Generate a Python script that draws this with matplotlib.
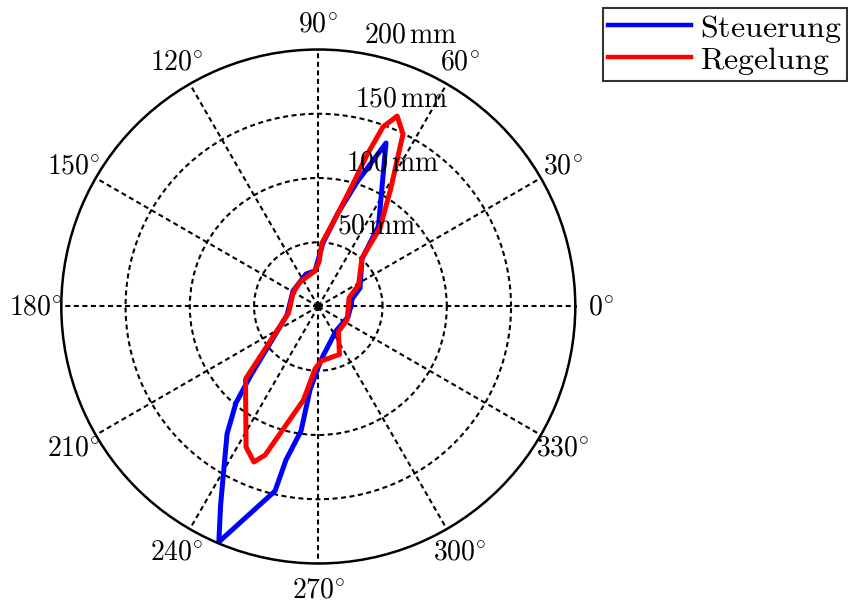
import numpy as np
import matplotlib
matplotlib.use('Agg')
import matplotlib.pyplot as plt

plt.rcParams['mathtext.fontset'] = 'cm'

# deviation in mm over polar angle in degrees
steuerung_theta = [0.9, 12.5, 23.9, 47.4, 53.2, 67.5, 72.7, 78.1, 85.8, 95.3, 110.7, 148.5,
                   195.2, 225.5, 229.5, 234.4, 243.8, 247.1, 256.8, 258.1, 262.1, 264.3,
                   269.7, 275.4, 305.8, 340.5]
steuerung_r = [25.4, 26.9, 35.5, 50.2, 78.2, 137.7, 101.5, 74.4, 49.6, 27.8, 27.0, 23.1,
               25.2, 74.7, 98.7, 122.0, 172.2, 198.9, 147.5, 122.1, 97.8, 65.3,
               47.9, 38.7, 23.5, 24.5]

regelung_theta = [1.0, 15.5, 28.1, 48.0, 51.8, 58.5, 63.85, 67.5, 70.2, 72.2, 74.2, 78.8,
                  86.7, 89.1, 95.3, 126.8, 151.9, 192.3, 224.9, 242.8, 247.5, 250.3,
                  261.0, 267.0, 272.8, 293.8, 308.9, 334.8]
regelung_r = [23.5, 24.8, 35.5, 50.8, 77.7, 108.2, 149.6, 160.4, 148.5, 123.8, 99.1, 71.0,
              49.5, 34.6, 27.8, 23.8, 22.3, 23.7, 80.0, 123.0, 131.0, 122.8,
              73.7, 48.7, 42.5, 40.8, 25.0, 24.7]

r_rings = [50, 100, 150, 200]
theta_ticks = list(range(0, 360, 30))


def closed(theta, r):
    t = np.deg2rad(theta + theta[:1])
    return t, np.array(r + r[:1])


fig = plt.figure(figsize=(8.48, 6.05), dpi=100)
ax = fig.add_axes([0.0723, 0.0686, 0.6061, 0.8496], projection='polar')

t, r = closed(steuerung_theta, steuerung_r)
ax.plot(t, r, color='#0000ff', lw=3.6, label=r'$\mathrm{Steuerung}$')
t, r = closed(regelung_theta, regelung_r)
ax.plot(t, r, color='#ff0000', lw=3.6, label=r'$\mathrm{Regelung}$')

ax.set_rlim(0, 200)
ax.set_rgrids(r_rings[:-1], labels=[''] * 3)
ax.set_thetagrids(theta_ticks, labels=[''] * len(theta_ticks))
ax.grid(True, color='k', linestyle=(0, (2.4, 1.7)), linewidth=1.5)
ax.spines['polar'].set_linewidth(1.8)
ax.spines['polar'].set_color('k')
ax.tick_params(length=0)

# angle labels outside the rim
for a in theta_ticks:
    ax.text(np.deg2rad(a), 220, r'$%d^{\circ}$' % a, ha='center', va='center', fontsize=20)

# radius labels along 82 degrees
for rr in r_rings:
    ax.annotate(r'$%d\,\mathrm{mm}$' % rr, xy=(np.deg2rad(82), rr + 2.5), xytext=(7, 0),
                textcoords='offset points', ha='left', va='bottom', fontsize=20,
                annotation_clip=False)

leg = fig.legend(loc='upper left', bbox_to_anchor=(0.711, 0.987), fontsize=23,
                 frameon=True, fancybox=False, edgecolor='k', borderpad=0.15,
                 labelspacing=0.0, handlelength=2.6, handletextpad=0.3, borderaxespad=0)
leg.get_frame().set_linewidth(1.5)
for line in leg.get_lines():
    line.set_linewidth(3.2)

fig.savefig('out.png', dpi=100)
